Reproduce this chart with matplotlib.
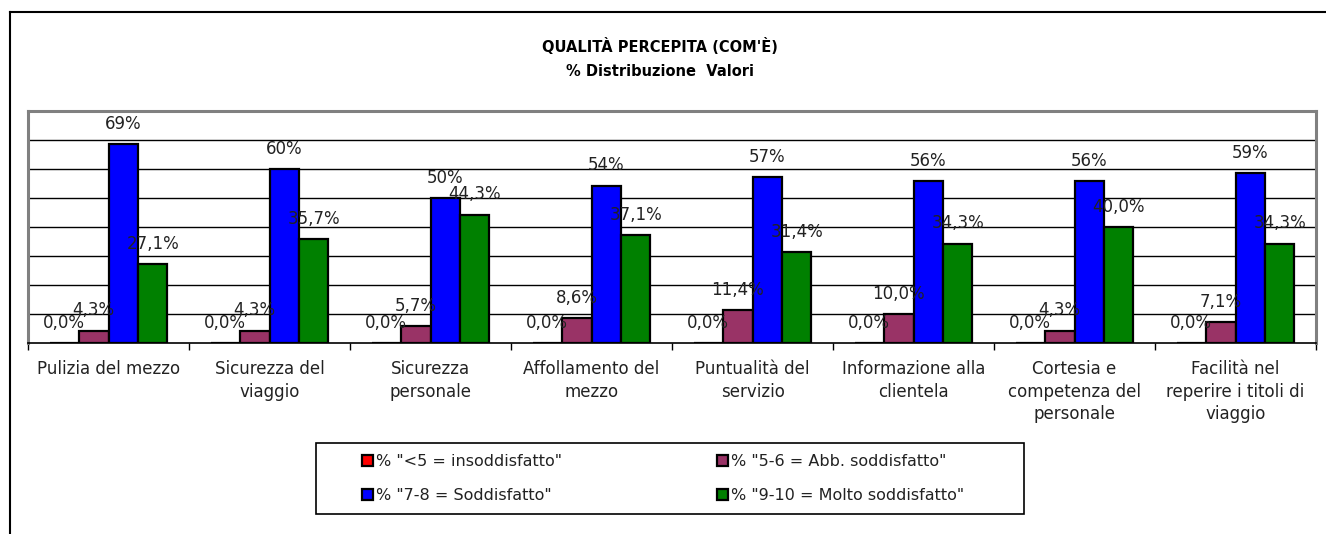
import matplotlib
matplotlib.use("Agg")
import matplotlib.pyplot as plt
from matplotlib.lines import Line2D
from matplotlib.patches import Rectangle
import numpy as np

categories = ["Pulizia del mezzo", "Sicurezza del\nviaggio", "Sicurezza\npersonale",
              "Affollamento del\nmezzo", "Puntualità del\nservizio", "Informazione alla\nclientela",
              "Cortesia e\ncompetenza del\npersonale", "Facilità nel\nreperire i titoli di\nviaggio"]
insoddisfatto = [0.0, 0.0, 0.0, 0.0, 0.0, 0.0, 0.0, 0.0]
abb_soddisfatto = [4.3, 4.3, 5.7, 8.6, 11.4, 10.0, 4.3, 7.1]
soddisfatto = [68.6, 60.0, 50.0, 54.3, 57.1, 55.7, 55.7, 58.6]
molto_soddisfatto = [27.1, 35.7, 44.3, 37.1, 31.4, 34.3, 40.0, 34.3]
series_names = ['% "<5 = insoddisfatto"', '% "5-6 = Abb. soddisfatto"',
                '% "7-8 = Soddisfatto"', '% "9-10 = Molto soddisfatto"']
label_formats = ["{:.1f}%", "{:.1f}%", "{:.0f}%", "{:.1f}%"]
colors = ["#FF0000", "#993366", "#0000FF", "#008000"]

plt.rcParams['font.family'] = ['DejaVu Sans']

W, H = 1326, 534
fig = plt.figure(figsize=(W / 100, H / 100), dpi=100)
ax = fig.add_axes([28/W, 1-343/H, (1316-28)/W, (343-111)/H])

x = np.arange(len(categories))
w = 0.183
series = [insoddisfatto, abb_soddisfatto, soddisfatto, molto_soddisfatto]
handles = []
for i, (vals, name, c, fmt) in enumerate(zip(series, series_names, colors, label_formats)):
    pos = x + (i - 1.5) * w
    bars = ax.bar(pos, vals, width=w, color=c, edgecolor="black", linewidth=1.6, label=name, zorder=3)
    handles.append(bars)
    for px, v in zip(pos, vals):
        ax.annotate(fmt.format(v).replace(".", ","), (px, v), xytext=(0, 14.5),
                    textcoords="offset points", ha="center", va="center",
                    fontsize=12, color="#222222", zorder=4)

ax.set_xlim(-0.5, len(categories) - 0.5)
ax.set_ylim(0, 80)
ax.set_yticks([])
for yv in range(10, 80, 10):
    ax.axhline(yv, color="black", linewidth=1.0, zorder=1)

ax.set_xticks(np.arange(-0.5, len(categories), 1.0))
ax.set_xticklabels([])
ax.tick_params(axis="x", which="major", direction="out", length=5, width=1, color="black")
ax.set_xticks(x, minor=True)
ax.set_xticklabels(categories, minor=True, fontsize=12, color="#222222", linespacing=1.3)
ax.tick_params(axis="x", which="minor", length=0, pad=12.5)

for side in ["top", "right", "left"]:
    ax.spines[side].set_color("#808080")
    ax.spines[side].set_linewidth(2.2)
ax.spines["bottom"].set_color("black")
ax.spines["bottom"].set_linewidth(1.2)

fig.text(0.4977, 1-47/H, "QUALITÀ PERCEPITA (COM'È)", ha="center", va="center",
         fontsize=10.5, fontweight="bold")
fig.text(0.4977, 1-72/H, "% Distribuzione  Valori", ha="center", va="center",
         fontsize=10.5, fontweight="bold")

# outer chart frame
fig.add_artist(Line2D([10/W, 10/W], [0, 1-12/H], transform=fig.transFigure,
                      color="black", linewidth=1.5))
fig.add_artist(Line2D([10/W, 1], [1-12/H, 1-12/H], transform=fig.transFigure,
                      color="black", linewidth=1.5))

# legend frame
fig.add_artist(Rectangle((316/W, 1-514/H), (1024-316)/W, (514-443)/H, transform=fig.transFigure,
                         facecolor="white", edgecolor="black", linewidth=1.2, zorder=1))

legend_cols = [([handles[0], handles[2]], [series_names[0], series_names[2]], 362),
               ([handles[1], handles[3]], [series_names[1], series_names[3]], 717)]
for hs, ls, xl in legend_cols:
    leg = fig.legend(hs, ls, loc="center left", bbox_to_anchor=(xl/W, 1-478.5/H),
                     fontsize=11.5, frameon=False, handlelength=0.7, handleheight=0.7,
                     handletextpad=0.2, borderpad=0, labelspacing=1.15, borderaxespad=0)
    leg.set_zorder(3)
    for t in leg.get_texts():
        t.set_color("#222222")

fig.savefig("out.png", dpi=100)
